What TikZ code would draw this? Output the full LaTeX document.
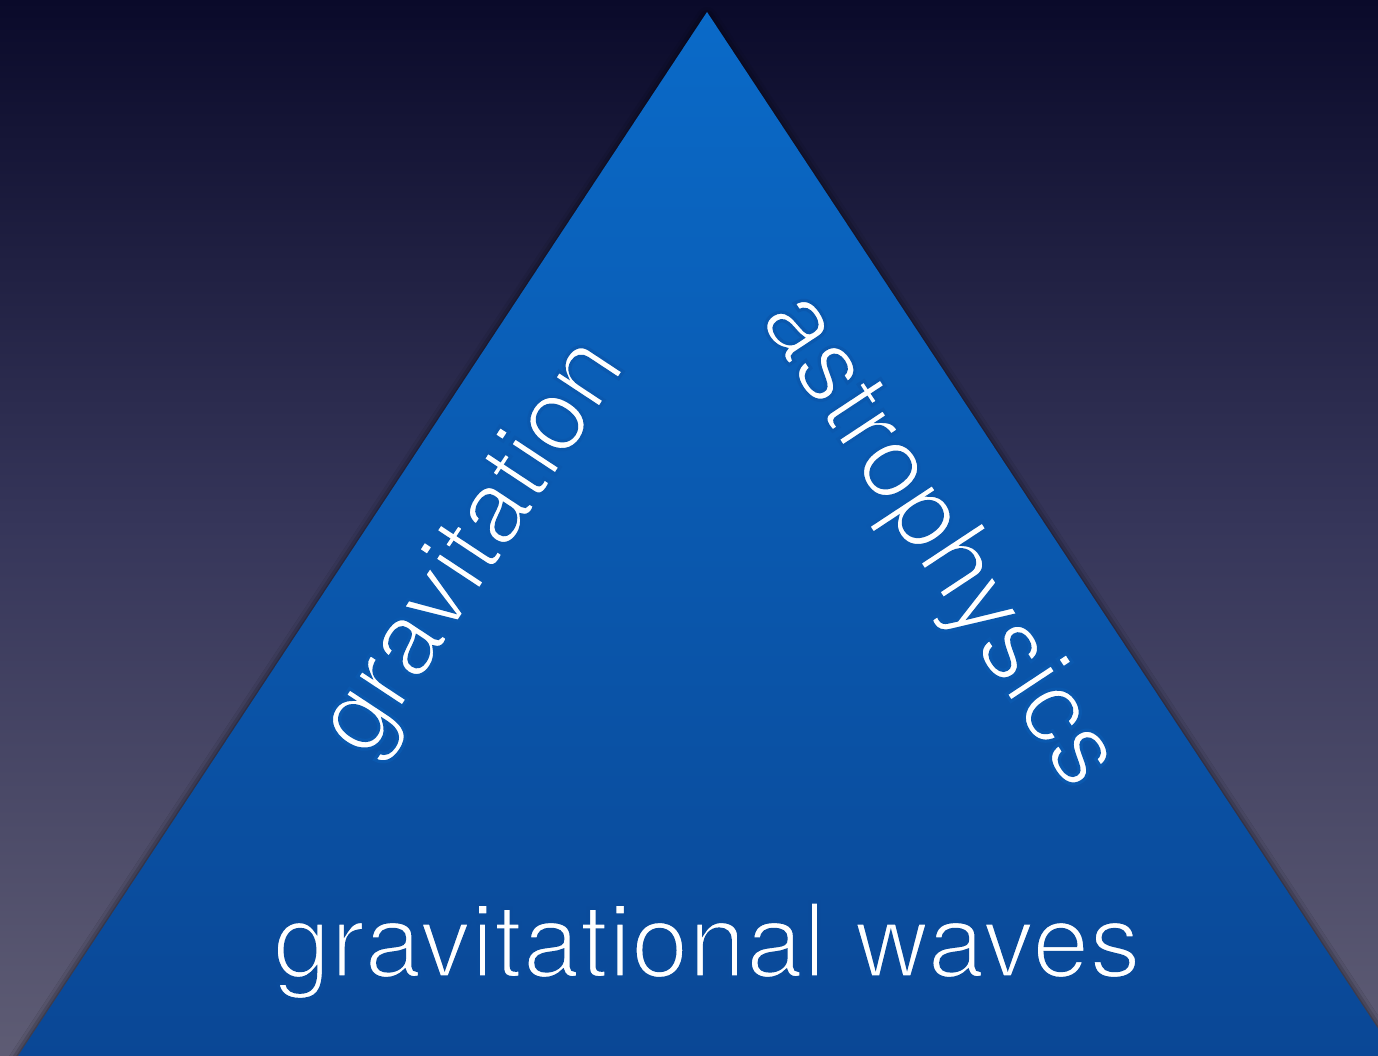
\documentclass[tikz,border=0pt]{standalone}
\usepackage{fontspec}
\setmainfont{TeX Gyre Heros}
\usetikzlibrary{shadows.blur}
\definecolor{bgtop}{RGB}{10,10,42}
\definecolor{bgmid}{RGB}{54,54,90}
\definecolor{bgbot}{RGB}{94,92,116}
\definecolor{tritop}{RGB}{10,106,200}
\definecolor{tribot}{RGB}{10,68,145}
% thin the white glyphs by stroking their outlines in the triangle's blue
\newcommand{\thintext}[2]{\special{pdf:literal direct 2 Tr 3.2 w #1 RG}#2\special{pdf:literal direct 0 Tr}}
\tikzset{
  label text/.style={text=white, inner sep=0pt, font=\fontsize{103}{120}\selectfont},
}
\begin{document}
\begin{tikzpicture}[x=1pt,y=-1pt]
\useasboundingbox (0,0) rectangle (1378,1056);
\clip (0,0) rectangle (1378,1056);
\shade[top color=bgtop, bottom color=bgbot, middle color=bgmid] (0,0) rectangle (1378,1056);
\coordinate (apex) at (707,12);
\coordinate (bl) at (-44,1150);
\coordinate (br) at (1458,1150);
\path[blur shadow={shadow xshift=0pt, shadow yshift=-5pt, shadow blur radius=10pt, shadow opacity=100},
      top color=tritop, bottom color=tribot] (apex) -- (br) -- (bl) -- cycle;
\node[label text, anchor=base, rotate=56.6] (grav) at (497,563) {\thintext{0.039 0.345 0.682}{gravitation}};
\node[label text, anchor=base, rotate=-56.6] (astro) at (915,556) {\thintext{0.039 0.345 0.682}{astrophysics}};
\node[label text, anchor=base] (gw) at (707,977) {\thintext{0.039 0.294 0.608}{gravitational waves}};
\end{tikzpicture}
\end{document}
